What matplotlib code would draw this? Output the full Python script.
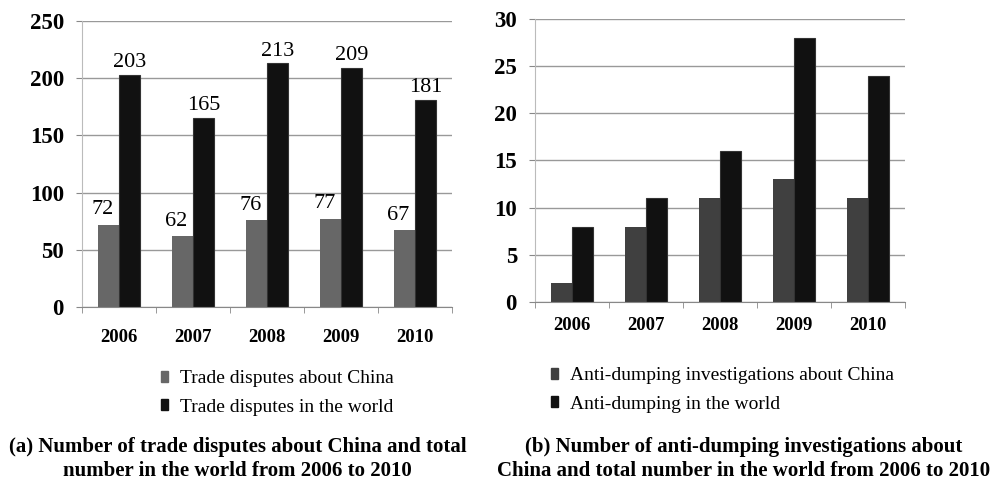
import matplotlib.pyplot as plt
from matplotlib.patches import Patch
import numpy as np

years = ['2006', '2007', '2008', '2009', '2010']
disputes_china = [72, 62, 76, 77, 67]
disputes_world = [203, 165, 213, 209, 181]
antidumping_china = [2, 8, 11, 13, 11]
antidumping_world = [8, 11, 16, 28, 24]

plt.rcParams['font.family'] = ['Liberation Serif', 'DejaVu Serif']

fig = plt.figure(figsize=(9.9, 4.87), dpi=100)
ax1 = fig.add_axes([0.0828, 0.3696, 0.3737, 0.5873])
ax2 = fig.add_axes([0.5404, 0.3799, 0.3737, 0.5811])

x = np.arange(len(years))
w = 0.285


def style(ax, ymax, step, label_pad):
    ax.set_xlim(-0.5, len(years) - 0.5)
    ax.set_ylim(0, ymax)
    ax.set_yticks(np.arange(0, ymax + 1, step))
    ax.set_xticks(x)
    ax.set_xticklabels(years, fontsize=13.5, fontweight='bold')
    ax.set_xticks(np.arange(-0.5, len(years)), minor=True)
    ax.tick_params(axis='x', which='major', length=0, pad=label_pad)
    ax.tick_params(axis='x', which='minor', length=4, color='#888888', direction='out')
    ax.tick_params(axis='y', length=4, color='#888888', labelsize=16.5, pad=9)
    for t in ax.get_yticklabels():
        t.set_fontweight('bold')
    ax.grid(axis='y', color='#999999', linewidth=1)
    ax.set_axisbelow(True)
    for s in ['top', 'right']:
        ax.spines[s].set_visible(False)
    ax.spines['left'].set_color('#bbbbbb')
    ax.spines['bottom'].set_color('#888888')


# (a) trade disputes
b1 = ax1.bar(x - w / 2, disputes_china, w, color='#676767')
b2 = ax1.bar(x + w / 2, disputes_world, w, color='#111111', edgecolor='#333333', linewidth=0.8)
for r, v in zip(b1, disputes_china):
    ax1.annotate(str(v), (r.get_x() + r.get_width() / 2 - 0.08, v), xytext=(0, 4),
                 textcoords='offset points', ha='center', va='bottom', fontsize=16)
for r, v in zip(b2, disputes_world):
    ax1.annotate(str(v), (r.get_x() + r.get_width() / 2, v), xytext=(0, 2),
                 textcoords='offset points', ha='center', va='bottom', fontsize=16)
style(ax1, 250, 50, 16)

# (b) anti-dumping
ax2.bar(x - w / 2, antidumping_china, w, color='#404040')
ax2.bar(x + w / 2, antidumping_world, w, color='#111111', edgecolor='#333333', linewidth=0.8)
style(ax2, 30, 5, 11)

leg_kw = dict(frameon=False, fontsize=14, handlelength=0.35, handleheight=0.5,
              handletextpad=0.6, labelspacing=0.6, borderaxespad=0)
fig.legend(handles=[Patch(color='#676767', label='Trade disputes about China'),
                    Patch(color='#111111', label='Trade disputes in the world')],
           loc='upper left', bbox_to_anchor=(0.155, 0.256), **leg_kw)
fig.legend(handles=[Patch(color='#404040', label='Anti-dumping investigations about China'),
                    Patch(color='#111111', label='Anti-dumping in the world')],
           loc='upper left', bbox_to_anchor=(0.549, 0.262), **leg_kw)

fig.text(0.240, 0.058, '(a) Number of trade disputes about China and total\nnumber in the world from 2006 to 2010',
         ha='center', va='center', fontsize=15, fontweight='bold', linespacing=1.3)
fig.text(0.751, 0.058, '(b) Number of anti-dumping investigations about\nChina and total number in the world from 2006 to 2010',
         ha='center', va='center', fontsize=15, fontweight='bold', linespacing=1.3)

fig.savefig('out.png', dpi=100)
